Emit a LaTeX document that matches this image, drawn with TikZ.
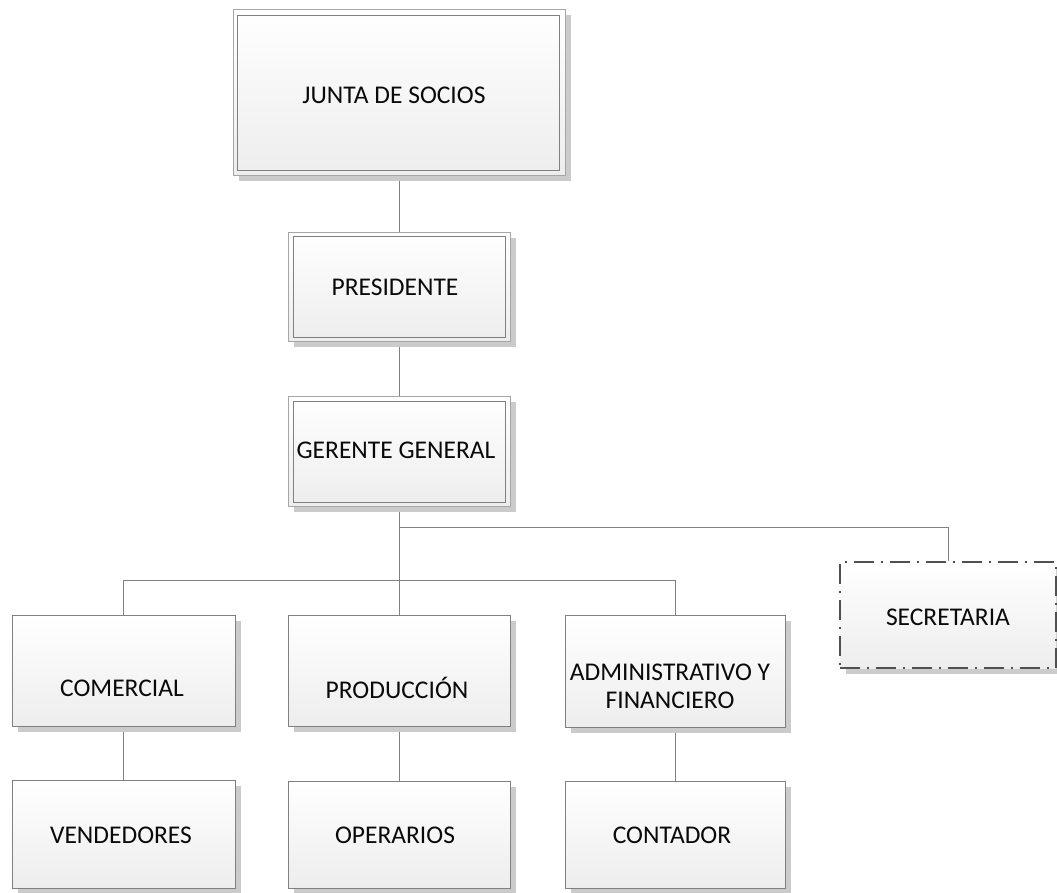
\documentclass[tikz,border=0pt]{standalone}
\usepackage{fontspec}
\setmainfont{Carlito}
\usetikzlibrary{shadows,backgrounds}
\definecolor{linegray}{HTML}{808080}
\definecolor{outergray}{HTML}{A6A6A6}
\definecolor{shadowgray}{HTML}{CBCBCB}
\definecolor{dashgray}{HTML}{505050}
\definecolor{txtcol}{HTML}{0A0A0A}
\begin{document}
\begin{tikzpicture}[x=1pt,y=-1pt,
  every node/.style={font=\fontsize{25.5}{28}\selectfont, text=txtcol},
  boxbase/.style={rectangle, inner sep=0pt, top color=white, bottom color=black!7,
    drop shadow={shadow xshift=6pt, shadow yshift=-6pt, fill=shadowgray, opacity=1}},
  plainbox/.style={boxbase, draw=linegray, line width=1pt},
  dblbox/.style={boxbase, draw=outergray, line width=1pt},
  innerline/.style={draw=linegray, line width=1pt},
  dashbox/.style={boxbase, draw=dashgray, line width=2.5pt,
    dash pattern=on 20pt off 7pt on 2pt off 7pt},
  conn/.style={draw=linegray, line width=1pt}
]
\useasboundingbox (0,0) rectangle (1057,892);

% top levels (outer frames)
\node[dblbox, minimum width=332pt, minimum height=166pt] (junta) at (399,92) {};
\node[dblbox, minimum width=222pt, minimum height=109pt] (pres) at (399,286.5) {};
\node[dblbox, minimum width=222pt, minimum height=110pt] (ger) at (399,451) {};
\draw[innerline] ([shift={(5,7)}]junta.north west) rectangle ([shift={(-6,-5)}]junta.south east);
\draw[innerline] ([shift={(6,5)}]pres.north west) rectangle ([shift={(-5,-4)}]pres.south east);
\draw[innerline] ([shift={(6,6)}]ger.north west) rectangle ([shift={(-5,-4)}]ger.south east);
\node (juntatxt) at (394,95) {JUNTA DE SOCIOS};
\node (prestxt) at (395,287) {PRESIDENTE};
\node (gertxt) at (396,450) {GERENTE GENERAL};

% middle level
\node[plainbox, minimum width=223pt, minimum height=111pt] (com) at (123.5,670.5) {};
\node[plainbox, minimum width=222pt, minimum height=111pt] (prod) at (399,670.5) {};
\node[plainbox, minimum width=220pt, minimum height=112pt] (adm) at (675,671) {};
\node[dashbox, minimum width=216pt, minimum height=106pt] (sec) at (948,615) {};
\node (comtxt) at (122,688) {COMERCIAL};
\node (prodtxt) at (397,688) {PRODUCCIÓN};
\node[align=center] (admtxt) at (670,686) {ADMINISTRATIVO Y\\FINANCIERO};
\node (sectxt) at (948,617) {SECRETARIA};

% bottom level
\node[plainbox, minimum width=223pt, minimum height=108pt] (ven) at (123.5,834) {};
\node[plainbox, minimum width=222pt, minimum height=107pt] (ope) at (399,834.5) {};
\node[plainbox, minimum width=220pt, minimum height=107pt] (con) at (675,834.5) {};
\node (ventxt) at (121,835) {VENDEDORES};
\node (opetxt) at (395,835) {OPERARIOS};
\node (contxt) at (672,835) {CONTADOR};

\coordinate (b1) at (399,527);
\coordinate (b2) at (399,580);

\begin{pgfonlayer}{background}
\draw[conn] (junta.south) -- (pres.north);
\draw[conn] (pres.south) -- (ger.north);
\draw[conn] (ger.south) -- (prod.north);
\draw[conn] (b1) -| (sec.north);
\draw[conn] (com.north) |- (b2) -| (adm.north);
\draw[conn] (com.south) -- (ven.north);
\draw[conn] (prod.south) -- (ope.north);
\draw[conn] (adm.south) -- (con.north);
\end{pgfonlayer}
\end{tikzpicture}
\end{document}
